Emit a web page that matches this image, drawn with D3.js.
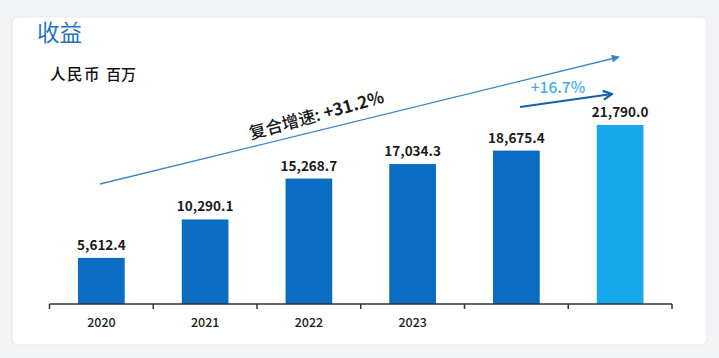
<!DOCTYPE html>
<html><head><meta charset="utf-8">
<script src="https://cdn.jsdelivr.net/npm/d3@7"></script>
<style>
html,body{margin:0;padding:0;background:#f3f4f6;}
svg{display:block;}
</style></head>
<body>
<svg id="c" width="719" height="358"></svg>
<script>
const categories = ["2020","2021","2022","2023","2024","2025"];
const tickLabels = ["2020","2021","2022","2023","",""];
const values = [5612.4, 10290.1, 15268.7, 17034.3, 18675.4, 21790.0];
const valueLabels = ["5,612.4","10,290.1","15,268.7","17,034.3","18,675.4","21,790.0"];
const cagrLabel = "复合增速: ";
const cagrValue = "+31.2%";
const yoyText = "+16.7%";

const svg = d3.select("#c");
const font = "'Noto Sans CJK SC','Noto Sans',sans-serif";

// card
svg.append("rect").attr("x",12).attr("y",17).attr("width",695).attr("height",328)
  .attr("rx",6).attr("fill","#ffffff").attr("stroke","#e6e8ec");

// title
svg.append("text").attr("x",37).attr("y",41).text("收益")
  .attr("font-family",font).attr("font-size",22.5).attr("fill","#2a72bf");
svg.append("text").attr("x",50).attr("y",80).text("人民币")
  .attr("font-family",font).attr("font-size",15.5).attr("letter-spacing",1.5).attr("font-weight",500).attr("fill","#111");
svg.append("text").attr("x",106).attr("y",80).text("百万")
  .attr("font-family",font).attr("font-size",15).attr("font-weight",500).attr("fill","#111");

const x = d3.scaleBand().domain(categories).range([49.5, 672]).paddingInner(0.55).paddingOuter(0.275);
const y = d3.scaleLinear().domain([0, 21790]).range([304, 125]);

const g = svg.append("g");
g.selectAll("rect.bar").data(values).join("rect").attr("class","bar")
  .attr("x",(d,i)=>x(categories[i])).attr("width",x.bandwidth())
  .attr("y",d=>y(d)).attr("height",d=>y(0)-y(d))
  .attr("fill",(d,i)=> i===values.length-1 ? "#16a8ea" : "#0a6cc3");

g.selectAll("text.val").data(values).join("text").attr("class","val")
  .attr("x",(d,i)=>x(categories[i])+x.bandwidth()/2).attr("y",d=>y(d)-8)
  .attr("text-anchor","middle").attr("font-family",font).attr("font-size",13.5)
  .attr("font-weight","bold").attr("fill","#1a1a1a")
  .text((d,i)=>valueLabels[i]);

// axis
const xAxis = d3.axisBottom(x).tickSize(0).tickFormat((d,i)=>tickLabels[i]);
const ax = svg.append("g").attr("transform","translate(0,304)").call(xAxis);
ax.select(".domain").remove();
ax.selectAll("text").attr("font-family",font).attr("font-size",12.5).attr("font-weight",500).attr("fill","#222").attr("dy","1.6em");
svg.append("line").attr("x1",49.5).attr("x2",672).attr("y1",304).attr("y2",304)
  .attr("stroke","#333").attr("stroke-width",1.5);
const step = x.step();
const bounds = d3.range(categories.length+1).map(i=>49.5 + i*step);
svg.selectAll("line.tk").data(bounds).join("line").attr("class","tk")
  .attr("x1",d=>d).attr("x2",d=>d).attr("y1",304).attr("y2",309)
  .attr("stroke","#333").attr("stroke-width",1.5);

// arrows
const defs = svg.append("defs");
defs.append("marker").attr("id","tri").attr("viewBox","0 0 10 10").attr("refX",9).attr("refY",5)
  .attr("markerWidth",10).attr("markerHeight",8).attr("markerUnits","userSpaceOnUse").attr("orient","auto")
  .append("path").attr("d","M0,0L10,5L0,10Z").attr("fill","#3a86c8");
defs.append("marker").attr("id","chev").attr("viewBox","0 0 10 10").attr("refX",9).attr("refY",5)
  .attr("markerWidth",11).attr("markerHeight",11).attr("markerUnits","userSpaceOnUse").attr("orient","auto")
  .append("path").attr("d","M1,1L9,5L1,9").attr("fill","none").attr("stroke","#1660a9").attr("stroke-width",2);

svg.append("line").attr("x1",100).attr("y1",184).attr("x2",619).attr("y2",57)
  .attr("stroke","#3a86c8").attr("stroke-width",1.3).attr("marker-end","url(#tri)");
const ct = svg.append("text").attr("transform","translate(318,121) rotate(-15.5)").attr("text-anchor","middle")
  .attr("font-family",font).attr("font-size",17).attr("fill","#1a1a1a");
ct.append("tspan").attr("font-weight",500).text(cagrLabel);
ct.append("tspan").attr("font-weight","bold").text(cagrValue);

svg.append("line").attr("x1",520).attr("y1",107).attr("x2",612).attr("y2",94)
  .attr("stroke","#1660a9").attr("stroke-width",2).attr("marker-end","url(#chev)");
svg.append("text").attr("x",558).attr("y",93).attr("text-anchor","middle")
  .attr("font-family",font).attr("font-size",15.5).attr("font-weight",500).attr("fill","#45ade6").text(yoyText);
</script>
</body></html>
